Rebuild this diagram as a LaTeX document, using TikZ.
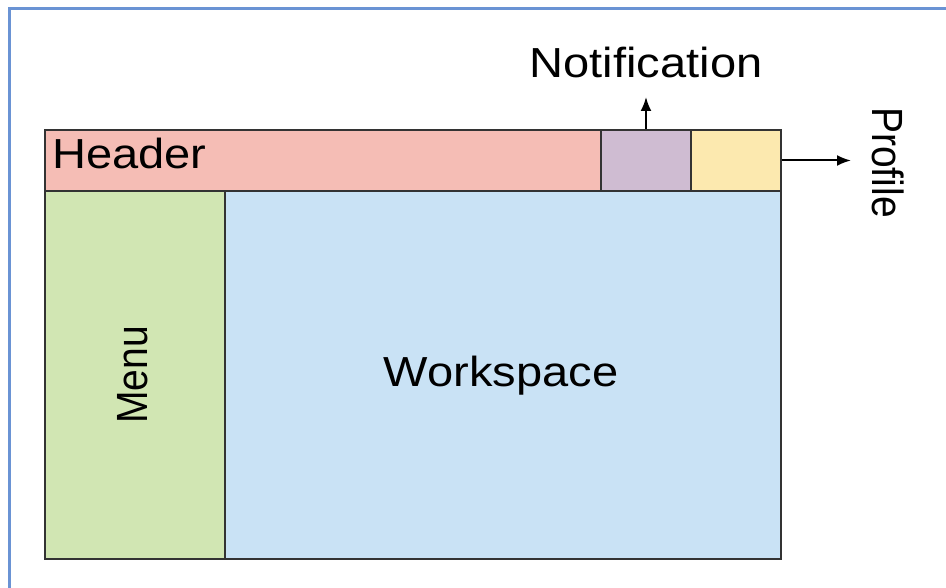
\documentclass[tikz,border=0pt]{standalone}
\usepackage{fontspec}
\setmainfont{Liberation Sans}
\usetikzlibrary{arrows.meta}

\definecolor{framecol}{HTML}{6A93D4}
\definecolor{headcol}{HTML}{F5BDB5}
\definecolor{notifcol}{HTML}{CFBCD2}
\definecolor{profcol}{HTML}{FCE9AF}
\definecolor{menucol}{HTML}{D1E6B3}
\definecolor{workcol}{HTML}{C9E2F5}

% labels are a bit wider than the plain font
\newcommand{\widetext}[1]{\scalebox{1.12}[1]{#1}}
\newcommand{\talltext}[1]{\scalebox{1}[1.12]{#1}}

\begin{document}
\begin{tikzpicture}[x=1pt,y=1pt]
			\tikzset{panel/.style={shape = rectangle, draw = black!80, line width = 2pt, inner sep = 0pt}}
			\tikzset{edge/.style={-{Latex[length = 14pt, width = 11pt]}, line width = 2pt}}
			\tikzset{big/.style={font=\fontsize{42}{46}\selectfont, inner sep = 0pt}}
			\tikzset{side/.style={font=\fontsize{39}{42}\selectfont, inner sep = 0pt}}
			\useasboundingbox (0,0) rectangle (946,588);
			%frame
			\draw[framecol, line width = 3pt] (9,-10) -- (9,579) -- (960,579);
			%panels
			\node[panel, fill = headcol, minimum width = 556pt, minimum height = 61pt] (header) at (323,427.5) {};
			\node[panel, fill = notifcol, minimum width = 90pt, minimum height = 61pt] (notif) at (646,427.5) {};
			\node[panel, fill = profcol, minimum width = 90pt, minimum height = 61pt] (profile) at (736,427.5) {};
			\node[panel, fill = menucol, minimum width = 180pt, minimum height = 368pt] (menu) at (135,213) {};
			\node[panel, fill = workcol, minimum width = 556pt, minimum height = 368pt] (workspace) at (503,213) {};
			%labels
			\node[big, anchor = base west] (headertext) at (52,419) {\widetext{Header}};
			\node[big, anchor = base] (worktext) at (501,201) {\widetext{Workspace}};
			\node[side, rotate = 90, anchor = base] (menutext) at (147,213) {\talltext{Menu}};
			\node[big, anchor = base] (notiftext) at (646,510) {\widetext{Notification}};
			\node[side, rotate = -90, anchor = base] (proftext) at (872,425.5) {\talltext{Profile}};
			%arrows
			\coordinate (notiftip) at (646,491);
			\coordinate (proftip) at (851,427.5);
			\draw[edge] (notif.north) -- (notiftip);
			\draw[edge] (profile.east) -- (proftip);
		\end{tikzpicture}
\end{document}
